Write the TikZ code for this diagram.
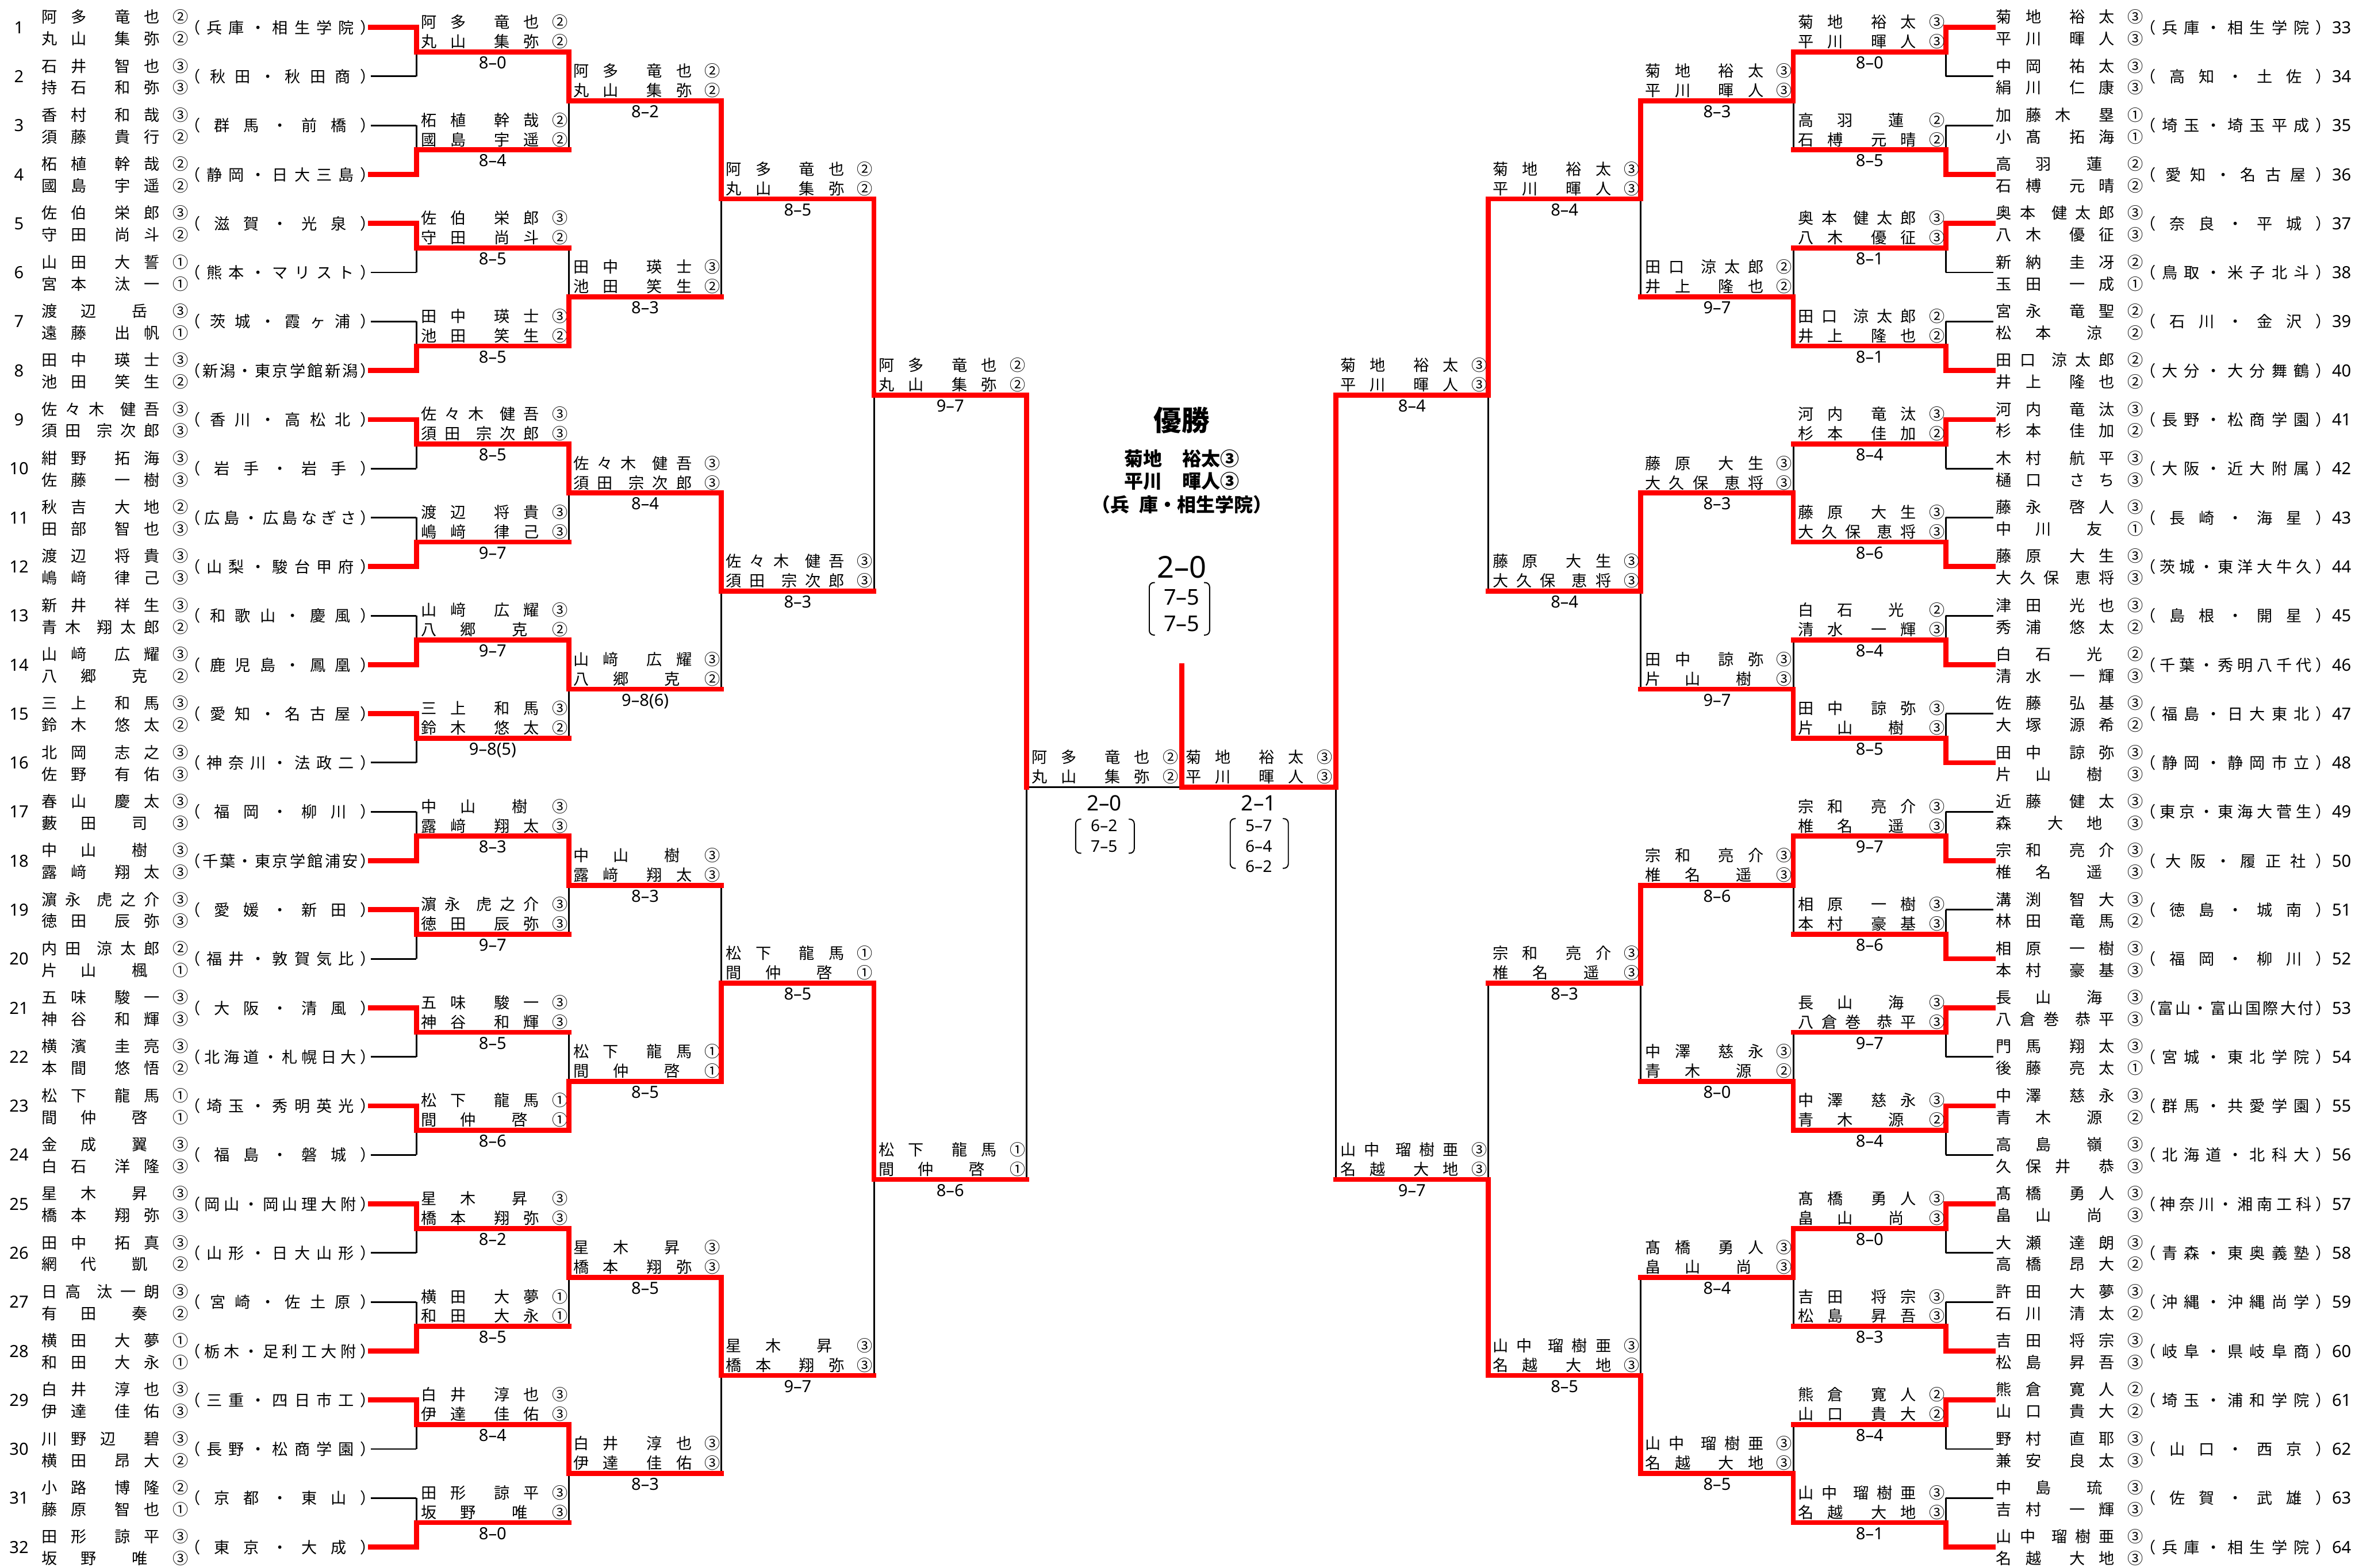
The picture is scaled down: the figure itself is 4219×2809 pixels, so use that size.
\documentclass[tikz,border=0pt]{standalone}
\usepackage{fontspec}
\setmainfont{Noto Sans CJK JP}
\newfontfamily\numf{Noto Sans}
\pgfdeclarelayer{paper}
\pgfdeclarelayer{bg}
\pgfsetlayers{paper,bg,main}
\newcommand\FA{\hskip 0pt plus 1fil\relax}
\newcommand\FB{\hskip 0pt plus 2fil\relax}
\newcommand\FC{\hskip 0pt plus 3fil\relax}
\newcommand\nm[2]{\makebox[212pt][s]{#1}\hspace{23pt}#2}
\def\spr#1{\sprA#1\sprEnd}
\def\sprA#1#2\sprEnd{#1\ifx\relax#2\relax\else\FA\sprA#2\sprEnd\fi}
\newcommand\sch[1]{（\makebox[286pt][s]{\FA\spr{#1}\FA}）}
\newcommand\nmfont{\fontsize{28}{34}\selectfont\spaceskip=0pt plus 1fil\relax}
\newcommand\numfont{\numf\fontsize{30}{32}\selectfont}
\newcommand\scofont{\numf\fontsize{30}{32}\selectfont}
\newcommand\defent[4]{\expandafter\def\csname eA#1\endcsname{#2}\expandafter\def\csname eB#1\endcsname{#3}\expandafter\def\csname eS#1\endcsname{\sch{#4}}}
% ---- left entries
\defent{1}{\nm{阿 多\FB 竜 也}{②}}{\nm{丸 山\FB 集 弥}{②}}{兵庫・相生学院}
\defent{2}{\nm{石 井\FB 智 也}{③}}{\nm{持 石\FB 和 弥}{③}}{秋田・秋田商}
\defent{3}{\nm{香 村\FB 和 哉}{③}}{\nm{須 藤\FB 貴 行}{②}}{群馬・前橋}
\defent{4}{\nm{柘 植\FB 幹 哉}{②}}{\nm{國 島\FB 宇 遥}{②}}{静岡・日大三島}
\defent{5}{\nm{佐 伯\FB 栄 郎}{③}}{\nm{守 田\FB 尚 斗}{②}}{滋賀・光泉}
\defent{6}{\nm{山 田\FB 大 誓}{①}}{\nm{宮 本\FB 汰 一}{①}}{熊本・マリスト}
\defent{7}{\nm{渡\FB 辺\FC 岳\FA}{③}}{\nm{遠 藤\FB 出 帆}{①}}{茨城・霞ヶ浦}
\defent{8}{\nm{田 中\FB 瑛 士}{③}}{\nm{池 田\FB 笑 生}{②}}{新潟・東京学館新潟}
\defent{9}{\nm{佐 々 木\FB 健 吾}{③}}{\nm{須 田\FB 宗 次 郎}{③}}{香川・高松北}
\defent{10}{\nm{紺 野\FB 拓 海}{③}}{\nm{佐 藤\FB 一 樹}{③}}{岩手・岩手}
\defent{11}{\nm{秋 吉\FB 大 地}{②}}{\nm{田 部\FB 智 也}{③}}{広島・広島なぎさ}
\defent{12}{\nm{渡 辺\FB 将 貴}{③}}{\nm{嶋 﨑\FB 律 己}{③}}{山梨・駿台甲府}
\defent{13}{\nm{新 井\FB 祥 生}{③}}{\nm{青 木\FB 翔 太 郎}{②}}{和歌山・慶風}
\defent{14}{\nm{山 﨑\FB 広 耀}{③}}{\nm{八\FB 郷\FC 克\FA}{②}}{鹿児島・鳳凰}
\defent{15}{\nm{三 上\FB 和 馬}{③}}{\nm{鈴 木\FB 悠 太}{②}}{愛知・名古屋}
\defent{16}{\nm{北 岡\FB 志 之}{③}}{\nm{佐 野\FB 有 佑}{③}}{神奈川・法政二}
\defent{17}{\nm{春 山\FB 慶 太}{③}}{\nm{藪\FB 田\FC 司\FA}{③}}{福岡・柳川}
\defent{18}{\nm{中\FB 山\FC 樹\FA}{③}}{\nm{露 﨑\FB 翔 太}{③}}{千葉・東京学館浦安}
\defent{19}{\nm{濵 永\FB 虎 之 介}{③}}{\nm{徳 田\FB 辰 弥}{③}}{愛媛・新田}
\defent{20}{\nm{内 田\FB 涼 太 郎}{②}}{\nm{片\FB 山\FC 楓\FA}{①}}{福井・敦賀気比}
\defent{21}{\nm{五 味\FB 駿 一}{③}}{\nm{神 谷\FB 和 輝}{③}}{大阪・清風}
\defent{22}{\nm{横 濱\FB 圭 亮}{③}}{\nm{本 間\FB 悠 悟}{②}}{北海道・札幌日大}
\defent{23}{\nm{松 下\FB 龍 馬}{①}}{\nm{間\FB 仲\FC 啓\FA}{①}}{埼玉・秀明英光}
\defent{24}{\nm{金\FB 成\FC 翼\FA}{③}}{\nm{白 石\FB 洋 隆}{③}}{福島・磐城}
\defent{25}{\nm{星\FB 木\FC 昇\FA}{③}}{\nm{橋 本\FB 翔 弥}{③}}{岡山・岡山理大附}
\defent{26}{\nm{田 中\FB 拓 真}{③}}{\nm{網\FB 代\FC 凱\FA}{②}}{山形・日大山形}
\defent{27}{\nm{日 高\FB 汰 一 朗}{③}}{\nm{有\FB 田\FC 奏\FA}{②}}{宮崎・佐土原}
\defent{28}{\nm{横 田\FB 大 夢}{①}}{\nm{和 田\FB 大 永}{①}}{栃木・足利工大附}
\defent{29}{\nm{白 井\FB 淳 也}{③}}{\nm{伊 達\FB 佳 佑}{③}}{三重・四日市工}
\defent{30}{\nm{川 野 辺\FB 碧}{③}}{\nm{横 田\FB 昂 大}{②}}{長野・松商学園}
\defent{31}{\nm{小 路\FB 博 隆}{②}}{\nm{藤 原\FB 智 也}{①}}{京都・東山}
\defent{32}{\nm{田 形\FB 諒 平}{③}}{\nm{坂\FB 野\FC 唯\FA}{③}}{東京・大成}
% ---- right entries
\defent{33}{\nm{菊 地\FB 裕 太}{③}}{\nm{平 川\FB 暉 人}{③}}{兵庫・相生学院}
\defent{34}{\nm{中 岡\FB 祐 太}{③}}{\nm{絹 川\FB 仁 康}{③}}{高知・土佐}
\defent{35}{\nm{加 藤 木\FB 塁}{①}}{\nm{小 髙\FB 拓 海}{①}}{埼玉・埼玉平成}
\defent{36}{\nm{高\FB 羽\FC 蓮\FA}{②}}{\nm{石 榑\FB 元 晴}{②}}{愛知・名古屋}
\defent{37}{\nm{奥 本\FB 健 太 郎}{③}}{\nm{八 木\FB 優 征}{③}}{奈良・平城}
\defent{38}{\nm{新 納\FB 圭 冴}{②}}{\nm{玉 田\FB 一 成}{①}}{鳥取・米子北斗}
\defent{39}{\nm{宮 永\FB 竜 聖}{②}}{\nm{松\FB 本\FC 涼\FA}{②}}{石川・金沢}
\defent{40}{\nm{田 口\FB 涼 太 郎}{②}}{\nm{井 上\FB 隆 也}{②}}{大分・大分舞鶴}
\defent{41}{\nm{河 内\FB 竜 汰}{③}}{\nm{杉 本\FB 佳 加}{②}}{長野・松商学園}
\defent{42}{\nm{木 村\FB 航 平}{③}}{\nm{樋 口\FB さ ち}{③}}{大阪・近大附属}
\defent{43}{\nm{藤 永\FB 啓 人}{③}}{\nm{中\FB 川\FC 友\FA}{①}}{長崎・海星}
\defent{44}{\nm{藤 原\FB 大 生}{③}}{\nm{大 久 保\FB 恵 将}{③}}{茨城・東洋大牛久}
\defent{45}{\nm{津 田\FB 光 也}{③}}{\nm{秀 浦\FB 悠 太}{②}}{島根・開星}
\defent{46}{\nm{白\FB 石\FC 光\FA}{②}}{\nm{清 水\FB 一 輝}{③}}{千葉・秀明八千代}
\defent{47}{\nm{佐 藤\FB 弘 基}{③}}{\nm{大 塚\FB 源 希}{②}}{福島・日大東北}
\defent{48}{\nm{田 中\FB 諒 弥}{③}}{\nm{片\FB 山\FC 樹\FA}{③}}{静岡・静岡市立}
\defent{49}{\nm{近 藤\FB 健 太}{③}}{\nm{森\FC 大\FB 地\FA}{③}}{東京・東海大菅生}
\defent{50}{\nm{宗 和\FB 亮 介}{③}}{\nm{椎\FB 名\FC 遥\FA}{③}}{大阪・履正社}
\defent{51}{\nm{溝 渕\FB 智 大}{③}}{\nm{林 田\FB 竜 馬}{②}}{徳島・城南}
\defent{52}{\nm{相 原\FB 一 樹}{③}}{\nm{本 村\FB 豪 基}{③}}{福岡・柳川}
\defent{53}{\nm{長\FB 山\FC 海\FA}{③}}{\nm{八 倉 巻\FB 恭 平}{③}}{富山・富山国際大付}
\defent{54}{\nm{門 馬\FB 翔 太}{③}}{\nm{後 藤\FB 亮 太}{①}}{宮城・東北学院}
\defent{55}{\nm{中 澤\FB 慈 永}{③}}{\nm{青\FB 木\FC 源\FA}{②}}{群馬・共愛学園}
\defent{56}{\nm{高\FB 島\FC 嶺\FA}{③}}{\nm{久 保 井\FB 恭}{③}}{北海道・北科大}
\defent{57}{\nm{髙 橋\FB 勇 人}{③}}{\nm{畠\FB 山\FC 尚\FA}{③}}{神奈川・湘南工科}
\defent{58}{\nm{大 瀬\FB 達 朗}{③}}{\nm{高 橋\FB 昂 大}{②}}{青森・東奥義塾}
\defent{59}{\nm{許 田\FB 大 夢}{③}}{\nm{石 川\FB 清 太}{②}}{沖縄・沖縄尚学}
\defent{60}{\nm{吉 田\FB 将 宗}{③}}{\nm{松 島\FB 昇 吾}{③}}{岐阜・県岐阜商}
\defent{61}{\nm{熊 倉\FB 寛 人}{②}}{\nm{山 口\FB 貴 大}{②}}{埼玉・浦和学院}
\defent{62}{\nm{野 村\FB 直 耶}{③}}{\nm{兼 安\FB 良 太}{③}}{山口・西京}
\defent{63}{\nm{中\FB 島\FC 琉\FA}{③}}{\nm{吉 村\FB 一 輝}{③}}{佐賀・武雄}
\defent{64}{\nm{山 中\FB 瑠 樹 亜}{③}}{\nm{名 越\FB 大 地}{③}}{兵庫・相生学院}
\tikzset{
  blk/.style={line width=3pt, black},
  redl/.style={line width=9pt, red, line cap=rect, line join=miter},
  nmf/.style={font=\nmfont, inner sep=0pt, anchor=base west},
  numn/.style={font=\numfont, inner sep=0pt, anchor=base},
  scf/.style={font=\scofont, inner sep=0pt, anchor=base},
  brk/.style={line width=2pt, rounded corners=8pt},
}
\begin{document}
\begin{tikzpicture}[x=1pt,y=-1pt]
\begin{pgfonlayer}{paper}
\fill[white] (0,0) rectangle (4219,2809);
\end{pgfonlayer}
\useasboundingbox (0,0) rectangle (4219,2809);
% ---------- first-round entries, left
\foreach \k in {1,...,32}{
  \pgfmathsetmacro\yy{49+87.85*(\k-1)}
  \node[numn] (n\k) at (34,\yy+11) {\k};
  \node[nmf] (ea\k) at (74,\yy-8) {\csname eA\k\endcsname};
  \node[nmf] (eb\k) at (74,\yy+31) {\csname eB\k\endcsname};
  \node[nmf] (es\k) at (331,\yy+11) {\csname eS\k\endcsname};
  \begin{pgfonlayer}{bg}\draw[blk] (664,\yy) -- (746,\yy);\end{pgfonlayer}
}
% ---------- first-round entries, right
\foreach \k in {33,...,64}{
  \pgfmathsetmacro\yy{49+87.85*(\k-33)}
  \node[numn] (n\k) at (4195,\yy+11) {\k};
  \node[nmf] (ea\k) at (3576,\yy-8) {\csname eA\k\endcsname};
  \node[nmf] (eb\k) at (3576,\yy+31) {\csname eB\k\endcsname};
  \node[nmf] (es\k) at (3834,\yy+11) {\csname eS\k\endcsname};
  \begin{pgfonlayer}{bg}\draw[blk] (3486,\yy) -- (3571,\yy);\end{pgfonlayer}
}
% ---------- left bracket
\foreach \L/\m/\w/\tb/\sc in {
 1/1/1/t/8–0, 1/2/4/b/8–4, 1/3/5/t/8–5, 1/4/8/b/8–5, 1/5/9/t/8–5, 1/6/12/b/9–7, 1/7/14/b/9–7, 1/8/15/t/9–8(5),
 1/9/18/b/8–3, 1/10/19/t/9–7, 1/11/21/t/8–5, 1/12/23/t/8–6, 1/13/25/t/8–2, 1/14/28/b/8–5, 1/15/29/t/8–4, 1/16/32/b/8–0,
 2/1/1/t/8–2, 2/2/8/b/8–3, 2/3/9/t/8–4, 2/4/14/t/9–8(6), 2/5/18/t/8–3, 2/6/23/b/8–5, 2/7/25/t/8–5, 2/8/29/t/8–3,
 3/1/1/t/8–5, 3/2/9/t/8–3, 3/3/23/b/8–5, 3/4/25/t/9–7,
 4/1/1/t/9–7, 4/2/23/t/8–6}{
  \pgfmathsetmacro\ytop{49+87.85*((\m-1)*2^\L+(2^(\L-1)-1)/2)}
  \pgfmathsetmacro\ybot{\ytop+87.85*2^(\L-1)}
  \pgfmathsetmacro\ymid{(\ytop+\ybot)/2}
  \pgfmathsetmacro\xa{746+273.25*(\L-1)}
  \pgfmathsetmacro\xb{\xa+273.25}
  \if\tb t\let\yw\ytop\else\let\yw\ybot\fi
  \begin{pgfonlayer}{bg}\draw[blk] (\xa,\ytop) -- (\xa,\ybot);\end{pgfonlayer}
  \ifnum\L=1
    \draw[redl] (664,\yw) -- (\xa,\yw) -- (\xa,\ymid) -- (\xb,\ymid);
  \else
    \draw[redl] (\xa,\yw) -- (\xa,\ymid) -- (\xb,\ymid);
  \fi
  \node[nmf] (la\L-\m) at (\xa+8,\ymid-43) {\csname eA\w\endcsname};
  \node[nmf] (lb\L-\m) at (\xa+8,\ymid-8) {\csname eB\w\endcsname};
  \node[scf] (ls\L-\m) at (\xa+136.6,\ymid+30) {\sc};
}
% ---------- right bracket
\foreach \L/\m/\w/\tb/\sc in {
 1/1/33/t/8–0, 1/2/36/b/8–5, 1/3/37/t/8–1, 1/4/40/b/8–1, 1/5/41/t/8–4, 1/6/44/b/8–6, 1/7/46/b/8–4, 1/8/48/b/8–5,
 1/9/50/b/9–7, 1/10/52/b/8–6, 1/11/53/t/9–7, 1/12/55/t/8–4, 1/13/57/t/8–0, 1/14/60/b/8–3, 1/15/61/t/8–4, 1/16/64/b/8–1,
 2/1/33/t/8–3, 2/2/40/b/9–7, 2/3/44/b/8–3, 2/4/48/b/9–7, 2/5/50/t/8–6, 2/6/55/b/8–0, 2/7/57/t/8–4, 2/8/64/b/8–5,
 3/1/33/t/8–4, 3/2/44/t/8–4, 3/3/50/t/8–3, 3/4/64/b/8–5,
 4/1/33/t/8–4, 4/2/64/b/9–7}{
  \pgfmathsetmacro\ytop{49+87.85*((\m-1)*2^\L+(2^(\L-1)-1)/2)}
  \pgfmathsetmacro\ybot{\ytop+87.85*2^(\L-1)}
  \pgfmathsetmacro\ymid{(\ytop+\ybot)/2}
  \pgfmathsetmacro\xa{3486-273.25*(\L-1)}
  \pgfmathsetmacro\xb{\xa-273.25}
  \if\tb t\let\yw\ytop\else\let\yw\ybot\fi
  \begin{pgfonlayer}{bg}\draw[blk] (\xa,\ytop) -- (\xa,\ybot);\end{pgfonlayer}
  \ifnum\L=1
    \draw[redl] (3571,\yw) -- (\xa,\yw) -- (\xa,\ymid) -- (\xb,\ymid);
  \else
    \draw[redl] (\xa,\yw) -- (\xa,\ymid) -- (\xb,\ymid);
  \fi
  \node[nmf] (ra\L-\m) at (\xb+8,\ymid-43) {\csname eA\w\endcsname};
  \node[nmf] (rb\L-\m) at (\xb+8,\ymid-8) {\csname eB\w\endcsname};
  \node[scf] (rs\L-\m) at (\xa-136.6,\ymid+30) {\sc};
}
% ---------- semifinals and final
\coordinate (LT) at (1839,707.9);
\coordinate (LB) at (1839,2113.4);
\coordinate (LM) at (1839,1410.6);
\coordinate (RT) at (2393,707.9);
\coordinate (RB) at (2393,2113.4);
\coordinate (RM) at (2393,1410.6);
\coordinate (CM) at (2117,1410.6);
\coordinate (CT) at (2117,1193);
\begin{pgfonlayer}{bg}
\draw[blk] (LT) -- (LB);
\draw[blk] (RT) -- (RB);
\draw[blk] (LM) -- (CM);
\end{pgfonlayer}
\draw[redl] (LT) -- (LM);
\draw[redl] (RT) -- (RM) -- (CM) -- (CT);
\node[nmf] (fla) at (1848,1367.6) {\csname eA1\endcsname};
\node[nmf] (flb) at (1848,1402.6) {\csname eB1\endcsname};
\node[nmf] (fra) at (2124,1367.6) {\csname eA33\endcsname};
\node[nmf] (frb) at (2124,1402.6) {\csname eB33\endcsname};
% semifinal scores
\node[font=\numf\fontsize{38}{40}\selectfont, anchor=base] (lsc) at (1978,1453) {2–0};
\node[font=\numf\fontsize{29}{30}\selectfont, anchor=base] (lsc1) at (1978,1490) {6–2};
\node[font=\numf\fontsize{29}{30}\selectfont, anchor=base] (lsc2) at (1978,1527) {7–5};
\draw[brk] (1937,1468) -- (1927,1468) -- (1927,1529) -- (1937,1529);
\draw[brk] (2022,1468) -- (2032,1468) -- (2032,1529) -- (2022,1529);
\node[font=\numf\fontsize{38}{40}\selectfont, anchor=base] (rsc) at (2255,1453) {2–1};
\node[font=\numf\fontsize{29}{30}\selectfont, anchor=base] (rsc1) at (2255,1490) {5–7};
\node[font=\numf\fontsize{29}{30}\selectfont, anchor=base] (rsc2) at (2255,1527) {6–4};
\node[font=\numf\fontsize{29}{30}\selectfont, anchor=base] (rsc3) at (2255,1563) {6–2};
\draw[brk] (2214,1467) -- (2204,1467) -- (2204,1556) -- (2214,1556);
\draw[brk] (2298,1467) -- (2308,1467) -- (2308,1556) -- (2298,1556);
% champion
\node[font=\bfseries\fontsize{50}{55}\selectfont, anchor=base] (title) at (2117,772) {優勝};
\node[font=\bfseries\fontsize{34}{36}\selectfont, anchor=base] (ch1) at (2117,835) {菊地\hspace{36pt}裕太③};
\node[font=\bfseries\fontsize{34}{36}\selectfont, anchor=base] (ch2) at (2117,875) {平川\hspace{36pt}暉人③};
\node[font=\bfseries\fontsize{34}{36}\selectfont, anchor=base] (ch3) at (2117,917) {（兵\hspace{17pt}庫・相生学院）};
\node[font=\numf\fontsize{54}{56}\selectfont, anchor=base] (fsc) at (2117,1036) {2–0};
\node[font=\numf\fontsize{39}{40}\selectfont, anchor=base] (fsc1) at (2117,1084) {7–5};
\node[font=\numf\fontsize{39}{40}\selectfont, anchor=base] (fsc2) at (2117,1131) {7–5};
\draw[brk] (2069,1044) -- (2059,1044) -- (2059,1138) -- (2069,1138);
\draw[brk] (2157,1044) -- (2167,1044) -- (2167,1138) -- (2157,1138);
\end{tikzpicture}
\end{document}
